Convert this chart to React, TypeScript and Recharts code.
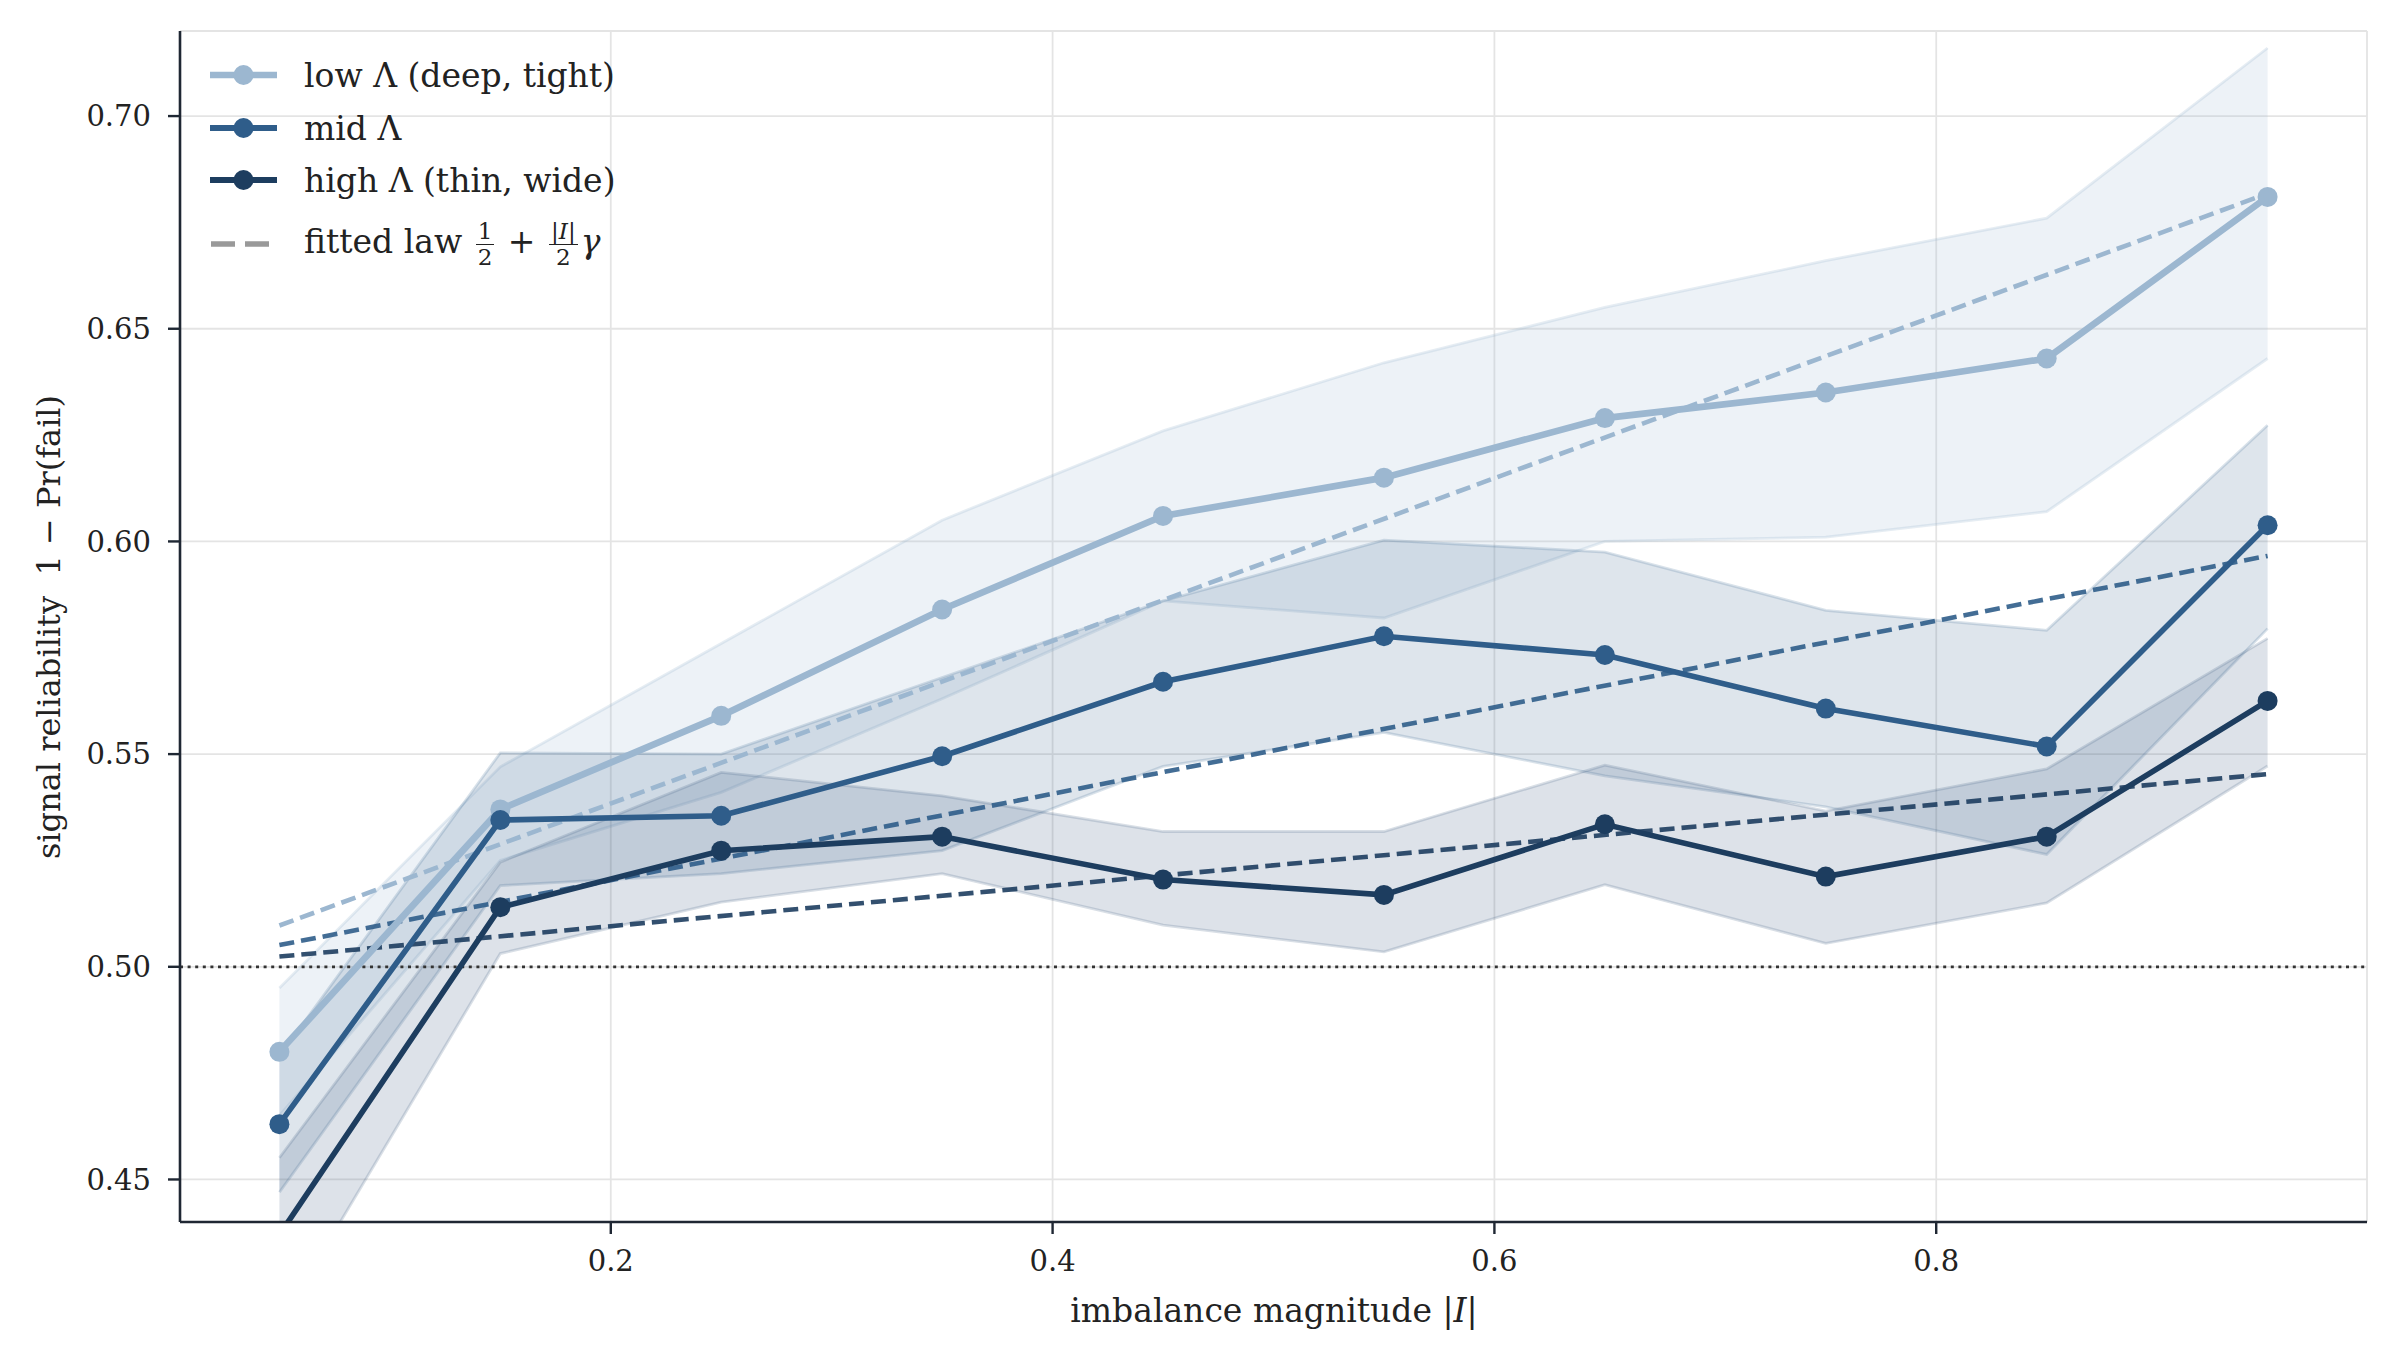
import React from 'react';
import { ComposedChart, Line, Area, XAxis, YAxis, CartesianGrid, ReferenceLine } from 'recharts';

const W = 2397;
const H = 1361;
const FONT = '"DejaVu Serif", serif';

// imbalance magnitude |I|
const xs = [0.05, 0.15, 0.25, 0.35, 0.45, 0.55, 0.65, 0.75, 0.85, 0.95];

// low Λ (deep, tight)
const lowMean = [0.480, 0.537, 0.559, 0.584, 0.606, 0.615, 0.629, 0.635, 0.643, 0.681];
const lowUpper = [0.495, 0.547, 0.576, 0.605, 0.626, 0.642, 0.655, 0.666, 0.676, 0.716];
const lowLower = [0.465, 0.525, 0.541, 0.563, 0.586, 0.582, 0.600, 0.601, 0.607, 0.643];

// mid Λ
const midMean = [0.463, 0.5345, 0.5355, 0.5495, 0.567, 0.5777, 0.5733, 0.5607, 0.5518, 0.6038];
const midUpper = [0.479, 0.5503, 0.5500, 0.568, 0.586, 0.6003, 0.5975, 0.5838, 0.5791, 0.6273];
const midLower = [0.447, 0.5191, 0.5219, 0.5273, 0.5471, 0.5551, 0.5449, 0.5376, 0.5264, 0.5795];

// high Λ (thin, wide)
const highMean = [0.437, 0.514, 0.5273, 0.5306, 0.5205, 0.5169, 0.5335, 0.5212, 0.5306, 0.5625];
const highUpper = [0.4551, 0.5246, 0.5457, 0.5402, 0.5318, 0.5318, 0.5474, 0.5366, 0.5465, 0.5772];
const highLower = [0.416, 0.5031, 0.5152, 0.5219, 0.5098, 0.5035, 0.5193, 0.5055, 0.5150, 0.5472];

// fitted law endpoints
const fitX = [0.05, 0.95];
const lowFit = [0.5097, 0.6818];
const midFit = [0.5051, 0.5966];
const highFit = [0.5024, 0.5453];

const yTicks = [0.45, 0.5, 0.55, 0.6, 0.65, 0.7];
const xTicks = [0.2, 0.4, 0.6, 0.8];

const C_LOW = '#9cb7d0';
const C_MID = '#2f5d8a';
const C_HIGH = '#1d3d5f';
const C_HIGH_BAND = '#2a4d75';
const C_AXIS = '#1f2733';
const C_TEXT = '#222222';

const data = xs.map((x, i) => ({
  x,
  low: lowMean[i],
  mid: midMean[i],
  high: highMean[i],
  lowBand: [lowLower[i], lowUpper[i]],
  midBand: [midLower[i], midUpper[i]],
  highBand: [highLower[i], highUpper[i]],
}));

const fitData = (vals: number[]) => fitX.map((x, i) => ({ x, v: vals[i] }));

const YLabel = () => (
  <text
    x={51}
    y={627}
    transform="rotate(-90 51 627)"
    textAnchor="middle"
    dominantBaseline="middle"
    fontFamily={FONT}
    fontSize={32}
    fill={C_TEXT}
    style={{ whiteSpace: 'pre' }}
  >
    signal reliability  1 − Pr(fail)
  </text>
);

const XLabel = () => (
  <text
    x={1274}
    y={1313}
    textAnchor="middle"
    dominantBaseline="middle"
    fontFamily={FONT}
    fontSize={33}
    fill={C_TEXT}
  >
    imbalance magnitude |<tspan fontStyle="italic">I</tspan>|
  </text>
);

const Frac = ({ num, den }: { num: React.ReactNode; den: React.ReactNode }) => (
  <span
    style={{
      display: 'inline-flex',
      flexDirection: 'column',
      alignItems: 'center',
      verticalAlign: 'middle',
      fontSize: '0.7em',
      lineHeight: 1.05,
      margin: '0 3px',
    }}
  >
    <span style={{ padding: '0 2px' }}>{num}</span>
    <span style={{ borderTop: '1.6px solid #222', padding: '0 2px', alignSelf: 'stretch', textAlign: 'center' }}>{den}</span>
  </span>
);

const LegendRow = ({ top, color, width, dashed, children }: any) => (
  <div
    style={{
      position: 'absolute',
      left: 205,
      top: top - 25,
      height: 50,
      display: 'flex',
      alignItems: 'center',
      whiteSpace: 'nowrap',
    }}
  >
    <svg width={80} height={50} style={{ display: 'block' }}>
      {dashed ? (
        <line x1={6} y1={25} x2={72} y2={25} stroke={color} strokeWidth={width} strokeDasharray="24 10" />
      ) : (
        <>
          <line x1={5} y1={25} x2={72} y2={25} stroke={color} strokeWidth={width} />
          <circle cx={38.5} cy={25} r={10} fill={color} />
        </>
      )}
    </svg>
    <span style={{ marginLeft: 19, fontFamily: FONT, fontSize: 33, color: C_TEXT }}>{children}</span>
  </div>
);

export default function App() {
  return (
    <div style={{ position: 'absolute', left: 0, top: 0, width: W, height: H, background: '#fff' }}>
      <ComposedChart
        width={W}
        height={H}
        data={data}
        margin={{ top: 31, right: 30, bottom: 79, left: 80 }}
      >
        <CartesianGrid stroke="#e4e4e4" strokeWidth={1.8} />
        <XAxis
          dataKey="x"
          type="number"
          domain={[0.005, 0.995]}
          ticks={xTicks}
          allowDataOverflow
          height={60}
          tickFormatter={(v: number) => v.toFixed(1)}
          tick={{ fontSize: 29, fill: C_TEXT, fontFamily: FONT }}
          tickSize={12}
          tickMargin={16}
          axisLine={{ stroke: C_AXIS, strokeWidth: 2.6 }}
          tickLine={{ stroke: C_AXIS, strokeWidth: 2.4 }}
          label={<XLabel />}
        />
        <YAxis
          type="number"
          domain={[0.44, 0.72]}
          ticks={yTicks}
          allowDataOverflow
          width={100}
          tickFormatter={(v: number) => v.toFixed(2)}
          tick={{ fontSize: 29, fill: C_TEXT, fontFamily: FONT }}
          tickSize={12}
          tickMargin={17}
          axisLine={{ stroke: C_AXIS, strokeWidth: 2.6 }}
          tickLine={{ stroke: C_AXIS, strokeWidth: 2.4 }}
          label={<YLabel />}
        />
        <Area
          dataKey="lowBand"
          type="linear"
          fill={C_LOW}
          fillOpacity={0.18}
          stroke={C_LOW}
          strokeOpacity={0.25}
          strokeWidth={2.8}
          isAnimationActive={false}
          activeDot={false}
        />
        <Area
          dataKey="midBand"
          type="linear"
          fill={C_MID}
          fillOpacity={0.16}
          stroke={C_MID}
          strokeOpacity={0.18}
          strokeWidth={2.8}
          isAnimationActive={false}
          activeDot={false}
        />
        <Area
          dataKey="highBand"
          type="linear"
          fill={C_HIGH_BAND}
          fillOpacity={0.16}
          stroke={C_HIGH_BAND}
          strokeOpacity={0.18}
          strokeWidth={2.8}
          isAnimationActive={false}
          activeDot={false}
        />
        <ReferenceLine y={0.5} stroke="#333" strokeWidth={2.8} strokeDasharray="3 4.6" />
        <Line data={fitData(lowFit)} dataKey="v" type="linear" stroke={C_LOW} strokeWidth={4.6} strokeDasharray="15 7" dot={false} activeDot={false} isAnimationActive={false} />
        <Line data={fitData(midFit)} dataKey="v" type="linear" stroke={C_MID} strokeOpacity={0.9} strokeWidth={4.6} strokeDasharray="15 7" dot={false} activeDot={false} isAnimationActive={false} />
        <Line data={fitData(highFit)} dataKey="v" type="linear" stroke={C_HIGH} strokeOpacity={0.9} strokeWidth={4.6} strokeDasharray="15 7" dot={false} activeDot={false} isAnimationActive={false} />
        <Line dataKey="low" type="linear" stroke={C_LOW} strokeWidth={6.7} dot={{ r: 10, fill: C_LOW, stroke: C_LOW, strokeWidth: 0 }} activeDot={false} isAnimationActive={false} />
        <Line dataKey="mid" type="linear" stroke={C_MID} strokeWidth={5.6} dot={{ r: 10, fill: C_MID, stroke: C_MID, strokeWidth: 0 }} activeDot={false} isAnimationActive={false} />
        <Line dataKey="high" type="linear" stroke={C_HIGH} strokeWidth={5.6} dot={{ r: 10, fill: C_HIGH, stroke: C_HIGH, strokeWidth: 0 }} activeDot={false} isAnimationActive={false} />
      </ComposedChart>
      <LegendRow top={75} color={C_LOW} width={6.7}>low Λ (deep, tight)</LegendRow>
      <LegendRow top={128} color={C_MID} width={6.2}>mid Λ</LegendRow>
      <LegendRow top={180} color={C_HIGH} width={6.2}>high Λ (thin, wide)</LegendRow>
      <LegendRow top={244} color="#999999" width={5.6} dashed>
        fitted law <Frac num="1" den="2" /> + <Frac num={<span>|<i>I</i>|</span>} den="2" /><i>γ</i>
      </LegendRow>
    </div>
  );
}
